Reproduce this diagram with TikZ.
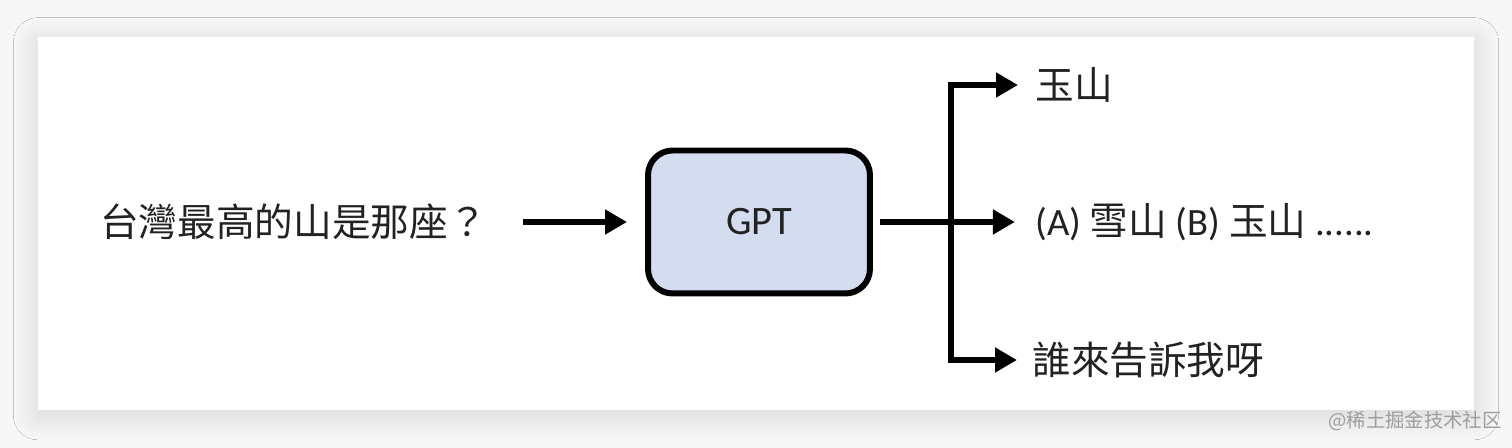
\documentclass[tikz,border=0pt]{standalone}
\usepackage{fontspec}
\setmainfont{Carlito}
\newfontfamily\cjk{Noto Sans CJK TC}
\newfontfamily\cjksc{Noto Sans CJK SC}
\usetikzlibrary{
  arrows.meta,
  positioning,
  shadows.blur
}
\definecolor{pageFill}{HTML}{F7F7F7}
\definecolor{cardFill}{HTML}{FFFFFF}
\definecolor{gptFill}{HTML}{D3DDEF}
\definecolor{ink}{HTML}{222222}
\definecolor{markGray}{HTML}{9E9E9E}
\newcommand{\zh}[1]{{\cjk #1}}
\tikzset{
  card/.style={
    fill=cardFill,
    blur shadow={shadow xshift=0pt, shadow yshift=-3pt,
                 shadow blur radius=14pt, shadow blur steps=24,
                 shadow opacity=14}
  },
  model/.style={
    draw=black,
    fill=gptFill,
    rounded corners=14pt,
    line width=3.4pt,
    minimum width=4.44cm,
    minimum height=2.86cm,
    font=\fontsize{23}{27}\selectfont,
    text=ink
  },
  txt/.style={font=\fontsize{22}{26}\selectfont, text=ink, inner sep=0pt},
  link/.style={line width=3.4pt, draw=black},
  arr/.style={link, -{Triangle[length=12.5pt, width=13.5pt]}},
  wmark/.style={font=\cjksc\fontsize{11}{13}\selectfont, text=markGray, inner sep=0pt}
}

\begin{document}
\begin{tikzpicture}[x=0.02cm, y=-0.02cm]
\useasboundingbox (0,0) rectangle (1512,448);
\fill[pageFill] (0,0) rectangle (1512,448);
\path[card] (38,37) rectangle (1474,410);

% --- Model and question ---
\node[model] (gpt) at (759,222) {GPT};
\node[txt, left=3.16cm of gpt] (question) {\zh{台灣最高的山是那座？}};

% --- Answers ---
\coordinate[right=1.56cm of gpt] (split);
\node[txt, anchor=west] (ans1) at (1035,85) {\zh{玉山}};
\node[txt, right=1.68cm of split] (ans2) {(A) \zh{雪山} (B) \zh{玉山} ......};
\node[txt, anchor=west] (ans3) at (1032,360) {\zh{誰來告訴我呀}};

% --- Connectors ---
\draw[arr, shorten <=0.72cm, shorten >=0.36cm] (question) -- (gpt);
\draw[link, shorten <=0.14cm] (gpt) -- (split);
\draw[arr, shorten >=0.34cm] (split) |- (ans1);
\draw[arr, shorten >=0.4cm] (split) -- (ans2);
\draw[arr, shorten >=0.3cm] (split) |- (ans3);

\node[wmark] (mark) at (1415,421) {@稀土掘金技术社区};

\end{tikzpicture}
\end{document}
